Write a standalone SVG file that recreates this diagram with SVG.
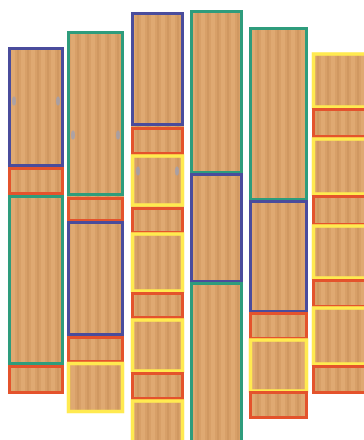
<svg xmlns="http://www.w3.org/2000/svg" width="364" height="440" viewBox="0 0 364 440">
<defs>
<pattern id="wood" patternUnits="userSpaceOnUse" width="10" height="10">
<rect width="10" height="10" fill="#D8A068"/>
<rect x="1" width="4" height="10" fill="#DFA972"/>
<rect x="7" width="2" height="10" fill="#D09861"/>
</pattern>
</defs>
<style>
.wood{fill:url(#wood)}
.b{fill:none;stroke:#4A4C9C;stroke-width:3}
.g{fill:none;stroke:#2E9C7C;stroke-width:3}
.r{fill:none;stroke:#E4532C;stroke-width:3}
.y{fill:none;stroke:#FFEA50;stroke-width:3.5}
.h{fill:#9CA0B6;opacity:0.75}
</style>
<rect width="364" height="440" fill="#FFFFFF"/>
<g id="board1">
<rect class="wood" x="8" y="47" width="56" height="347"/>
<rect class="b" x="9.5" y="48.5" width="53" height="117"/>
<rect class="r" x="9.5" y="168.5" width="53" height="25"/>
<rect class="g" x="9.5" y="196.5" width="53" height="167"/>
<rect class="r" x="9.5" y="366.5" width="53" height="26"/>
<ellipse class="h" cx="14" cy="101" rx="2" ry="4.5"/>
<ellipse class="h" cx="58" cy="101" rx="2" ry="4.5"/>
</g>
<g id="board2">
<rect class="wood" x="67" y="31" width="57" height="382"/>
<rect class="g" x="68.5" y="32.5" width="54" height="162"/>
<rect class="r" x="68.5" y="198.5" width="54" height="22"/>
<rect class="b" x="68.5" y="222.5" width="54" height="112"/>
<rect class="r" x="68.5" y="337.5" width="54" height="24"/>
<rect class="y" x="68.5" y="363.5" width="54" height="48"/>
<ellipse class="h" cx="73" cy="135" rx="2" ry="4.5"/>
<ellipse class="h" cx="118" cy="135" rx="2" ry="4.5"/>
</g>
<g id="board3">
<rect class="wood" x="131" y="12" width="53" height="430"/>
<rect class="b" x="132.5" y="13.5" width="50" height="111"/>
<rect class="r" x="132.5" y="128.5" width="50" height="25"/>
<rect class="y" x="132.5" y="156" width="50" height="49"/>
<rect class="r" x="132.5" y="208.5" width="50" height="24"/>
<rect class="y" x="132.5" y="234" width="50" height="57"/>
<rect class="r" x="132.5" y="293.5" width="50" height="24"/>
<rect class="y" x="132.5" y="320" width="50" height="51"/>
<rect class="r" x="132.5" y="373.5" width="50" height="25"/>
<rect class="y" x="132.5" y="401" width="50" height="50"/>
<ellipse class="h" cx="138" cy="171" rx="2" ry="4.5"/>
<ellipse class="h" cx="177" cy="171" rx="2" ry="4.5"/>
</g>
<g id="board4">
<rect class="wood" x="190" y="10" width="53" height="432"/>
<rect class="g" x="191.5" y="11.5" width="50" height="161"/>
<rect class="b" x="191.5" y="174.5" width="50" height="107"/>
<rect class="g" x="191.5" y="283.5" width="50" height="170"/>
</g>
<g id="board5">
<rect class="wood" x="249" y="27" width="59" height="391"/>
<rect class="g" x="250.5" y="28.5" width="56" height="171"/>
<rect class="b" x="250.5" y="201.5" width="56" height="110"/>
<rect class="r" x="250.5" y="313.5" width="56" height="25"/>
<rect class="y" x="250.5" y="340" width="56" height="51"/>
<rect class="r" x="250.5" y="392.5" width="56" height="25"/>
</g>
<g id="board6">
<rect class="wood" x="312" y="53" width="56" height="340"/>
<rect class="y" x="313.5" y="54" width="56" height="53"/>
<rect class="r" x="313.5" y="109.5" width="56" height="27"/>
<rect class="y" x="313.5" y="139" width="56" height="55"/>
<rect class="r" x="313.5" y="196.5" width="56" height="28"/>
<rect class="y" x="313.5" y="226" width="56" height="52"/>
<rect class="r" x="313.5" y="280.5" width="56" height="26"/>
<rect class="y" x="313.5" y="308" width="56" height="56"/>
<rect class="r" x="313.5" y="366.5" width="56" height="26"/>
</g>
</svg>
